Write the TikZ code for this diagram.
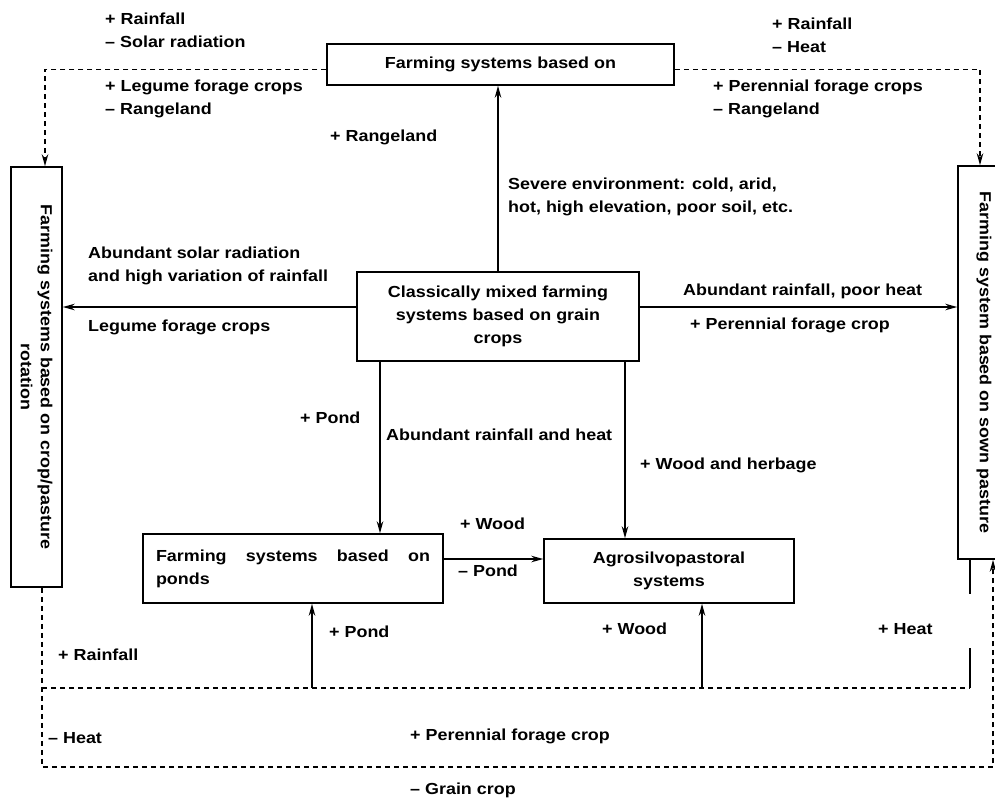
\documentclass[tikz,border=0pt]{standalone}
\usepackage{fontspec}
\setmainfont{Liberation Sans}[FakeStretch=1.12]
\usetikzlibrary{arrows.meta}

\begin{document}
\begin{tikzpicture}[
    x=1pt, y=-1pt,
    every node/.style={font=\fontsize{16}{23}\selectfont\bfseries},
    box/.style={rectangle, draw=black, line width=1.5pt, inner sep=0pt},
    note/.style={anchor=west, align=left, inner sep=0pt},
    arrow/.style={->, >={Stealth[length=12pt, width=6.5pt]}, line width=1.6pt},
    dashline/.style={line width=1.6pt, dash pattern=on 5pt off 4pt},
    dasharrow/.style={dashline, ->, >={Stealth[length=12pt, width=6.5pt]}},
    plainline/.style={line width=1.6pt}
  ]
    \useasboundingbox (0,0) rectangle (995,804);

    % Farming systems
    \node[box, minimum width=347, minimum height=41] (rangeland) at (500.5, 64.5) {Farming systems based on};
    \node[box, minimum width=282, minimum height=89, align=center] (mixed) at (498, 316.5) {Classically mixed farming\\systems based on grain\\crops};
    \node[box, minimum width=300, minimum height=69, text width=274, align=justify] (ponds) at (293, 568.5) {Farming systems based on ponds};
    \node[box, minimum width=250, minimum height=64, align=center] (agro) at (669, 571) {Agrosilvopastoral\\systems};

    % Rotated side boxes (north = right, east = bottom)
    \node[box, rotate=-90, minimum width=420, minimum height=51, align=center,
          font=\fontsize{16}{20}\selectfont\bfseries] (rotation) at (36.5, 377) {Farming systems based on crop/pasture\\rotation};
    \node[box, rotate=-90, minimum width=393, minimum height=52] (sown) at (984, 362.5) {Farming system based on sown pasture};

    % Points on the lower loops
    \coordinate (loop) at (500, 767);
    \coordinate (innerL) at (42, 688);
    \coordinate (innerR) at (970, 688);
    \coordinate (pondin) at (312, 688);
    \coordinate (woodin) at (702, 688);

    % Arrows from the grain crop systems
    \draw[arrow] (mixed.north) -- (mixed.north |- rangeland.south);
    \draw[arrow] ([yshift=9.5]mixed.west) -- ([yshift=9.5]mixed.west -| rotation.north);
    \draw[arrow] ([yshift=9.5]mixed.east) -- ([yshift=9.5]mixed.east -| sown.south);
    \draw[arrow] ([xshift=-118]mixed.south) -- ([xshift=-118]mixed.south |- ponds.north);
    \draw[arrow] ([xshift=127]mixed.south) -- ([xshift=127]mixed.south |- agro.north);
    \draw[arrow] ([yshift=9.5]ponds.east) -- ([yshift=9.5]ponds.east -| agro.west);

    % Dashed transitions
    \draw[dasharrow] ([yshift=-5]rangeland.west) -| ([xshift=8.5]rotation.west);
    \draw[dasharrow] ([yshift=-5]rangeland.east) -| ([xshift=-4]sown.west);
    \draw[dasharrow] ([xshift=5.5]rotation.east) |- (loop) -| ([xshift=9]sown.east);
    \draw[dashline] (innerL) -- (innerR);
    \draw[plainline] (innerR) -- ++(0,-40);
    \draw[plainline] ([xshift=-14]sown.east) -- ++(0,34);
    \draw[arrow] (pondin) -- (pondin |- ponds.south);
    \draw[arrow] (woodin) -- (woodin |- agro.south);

    % Labels
    \node[note] (rainsolar) at (105, 30) {+ Rainfall\\– Solar radiation};
    \node[note] (legume) at (105, 99) {+ Legume forage crops\\– Rangeland};
    \node[note] (rangeplus) at (330, 137) {+ Rangeland};
    \node[note] (rainheat) at (772, 35) {+ Rainfall\\– Heat};
    \node[note] (perennial) at (713, 99) {+ Perennial forage crops\\– Rangeland};
    \node[note] (severe) at (508, 197) {Severe environment: cold, arid,\\hot, high elevation, poor soil, etc.};
    \node[note] (solar) at (88, 266) {Abundant solar radiation\\and high variation of rainfall};
    \node[note] (legumecrops) at (88, 327) {Legume forage crops};
    \node[note] (rainpoor) at (683, 291) {Abundant rainfall, poor heat};
    \node[note] (perennialcrop) at (690, 325) {+ Perennial forage crop};
    \node[note] (pondplus) at (300, 418) {+ Pond};
    \node[note] (rainabund) at (386, 435) {Abundant rainfall and heat};
    \node[note] (woodherb) at (640, 465) {+ Wood and herbage};
    \node[note] (woodplus) at (460, 524) {+ Wood};
    \node[note] (pondminus) at (458, 571) {– Pond};
    \node[note] (pondup) at (329, 632) {+ Pond};
    \node[note] (woodup) at (602, 629) {+ Wood};
    \node[note] (heatup) at (878, 629) {+ Heat};
    \node[note] (rainlow) at (58, 655) {+ Rainfall};
    \node[note] (heatlow) at (48, 738) {– Heat};
    \node[note] (perenniallow) at (410, 736) {+ Perennial forage crop};
    \node[note] (grainlow) at (410, 790) {– Grain crop};

\end{tikzpicture}
\end{document}
